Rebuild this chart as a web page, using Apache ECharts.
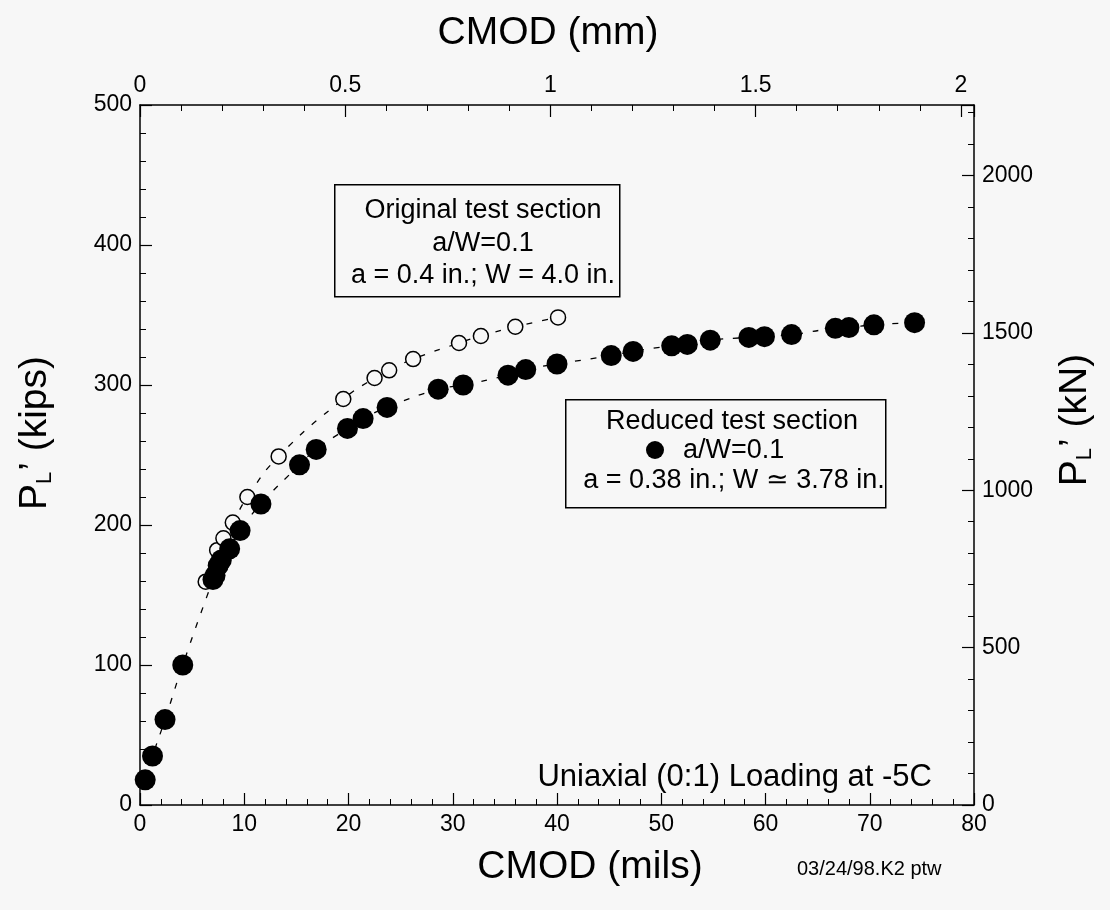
<!DOCTYPE html>
<html>
<head>
<meta charset="utf-8">
<script src="https://cdn.jsdelivr.net/npm/echarts@6/dist/echarts.min.js"></script>
<style>
  html, body { margin: 0; padding: 0; background: #f7f7f7; }
  #main { width: 1110px; height: 910px; }
</style>
</head>
<body>
<div id="main"></div>
<script>
// CMOD (mils) vs P_L (kips)
const reducedCmod = [0.5, 1.2, 2.4, 4.1, 7.0, 7.2, 7.5, 7.8, 8.6, 9.6, 11.6, 15.3, 16.9, 19.9, 21.4, 23.7, 28.6,
  31.0, 35.3, 37.0, 40.0, 45.2, 47.3, 51.0, 52.5, 54.7, 58.4, 59.9, 62.5, 66.7, 68.0, 70.4, 74.3];
const reducedLoad = [18, 35, 61, 100, 161, 164, 171, 175, 183, 196, 215, 243, 254, 269, 276, 284, 297,
  300, 307, 311, 315, 321, 324, 328, 329, 332, 334, 334.5, 336, 340.5, 341, 343, 344.5];

const originalCmod = [6.3, 7.4, 8.0, 8.9, 10.3, 13.3, 19.5, 22.5, 23.9, 26.2, 30.6, 32.7, 36.0, 40.1];
const originalLoad = [159.5, 182, 190.5, 201.7, 220, 249, 290, 305, 310.5, 318.5, 330, 335, 341.6, 348.3];

const originalNote = ['Original test section', 'a/W=0.1', 'a = 0.4 in.; W = 4.0 in.'];
const reducedNote = ['Reduced test section', 'a/W=0.1', 'a = 0.38 in.; W \u2243 3.78 in.'];
const loadingNote = 'Uniaxial (0:1) Loading at -5C';
const stamp = '03/24/98.K2 ptw';

const MILS_MAX = 80;
const MM_MAX = MILS_MAX * 0.0254;      // 2.032 mm
const KIPS_MAX = 500;
const KN_MAX = KIPS_MAX * 4.44822;     // 2224 kN

var chartDom = document.getElementById('main');
var myChart = echarts.init(chartDom);

const font = 'Liberation Sans, Arial, Helvetica, sans-serif';
const black = '#000';

function axisBase() {
  return {
    axisLine: { show: true, onZero: false, lineStyle: { color: black, width: 1.5 } },
    axisTick: { show: true, inside: true, length: 12, lineStyle: { color: black, width: 1.2 } },
    minorTick: { show: true, splitNumber: 5, length: 6, lineStyle: { color: black, width: 1 } },
    splitLine: { show: false },
    axisLabel: { color: black, fontSize: 23, fontFamily: font }
  };
}

const titleStyle = { color: black, fontSize: 39, fontFamily: font };
const plRich = {
  a: { fontSize: 39, fontFamily: font, color: black },
  s: { fontSize: 22, fontFamily: font, color: black, padding: [20, 1, 0, 0] }
};

function pairs(xs, ys) {
  return xs.map((x, i) => [x, ys[i]]);
}

var option = {
  backgroundColor: '#f7f7f7',
  animation: false,
  grid: { left: 140, right: 136, top: 105, bottom: 105 },
  xAxis: [
    Object.assign(axisBase(), {
      type: 'value', position: 'bottom', min: 0, max: MILS_MAX, interval: 10,
      name: 'CMOD (mils)', nameLocation: 'middle', nameGap: 43,
      nameTextStyle: Object.assign({ padding: [0, 0, 0, 66] }, titleStyle)
    }),
    Object.assign(axisBase(), {
      type: 'value', position: 'top', min: 0, max: MM_MAX, interval: 0.5,
      name: 'CMOD (mm)', nameLocation: 'middle', nameGap: 52,
      nameTextStyle: Object.assign({ padding: [0, 18, 0, 0] }, titleStyle),
      axisLabel: {
        color: black, fontSize: 23, fontFamily: font, showMaxLabel: false,
        formatter: v => (Math.abs(v / 0.5 - Math.round(v / 0.5)) < 1e-6 ? String(v) : '')
      }
    })
  ],
  yAxis: [
    Object.assign(axisBase(), {
      type: 'value', position: 'left', min: 0, max: KIPS_MAX, interval: 100,
      name: "{a|P}{s|L}{a|\u2019 (kips)}", nameLocation: 'middle', nameGap: 84, nameRotate: 90,
      nameTextStyle: { padding: [0, 0, 0, 44], rich: plRich }
    }),
    Object.assign(axisBase(), {
      type: 'value', position: 'right', min: 0, max: KN_MAX, interval: 500,
      name: "{a|P}{s|L}{a|\u2019 (kN)}", nameLocation: 'middle', nameGap: 80, nameRotate: 90,
      nameTextStyle: { padding: [0, 0, 0, 70], rich: plRich },
      axisLabel: {
        color: black, fontSize: 23, fontFamily: font, showMaxLabel: false,
        formatter: v => String(Math.round(v))
      }
    })
  ],
  series: [
    {
      name: 'Original test section',
      type: 'line',
      xAxisIndex: 0, yAxisIndex: 0,
      data: pairs(originalCmod, originalLoad),
      smooth: true,
      symbol: 'circle',
      symbolSize: 15,
      itemStyle: { color: '#f7f7f7', borderColor: black, borderWidth: 1.5 },
      lineStyle: { color: black, width: 1.3, type: [6, 10] },
      z: 3
    },
    {
      name: 'Reduced test section',
      type: 'line',
      xAxisIndex: 0, yAxisIndex: 0,
      data: pairs(reducedCmod, reducedLoad),
      smooth: true,
      symbol: 'circle',
      symbolSize: 21,
      itemStyle: { color: black, borderColor: black, borderWidth: 0 },
      lineStyle: { color: black, width: 1.3, type: [6, 10] },
      z: 4
    }
  ],
  graphic: [
    {
      type: 'rect', left: 334, top: 184, z: 10,
      shape: { width: 285, height: 112 },
      style: { fill: '#f7f7f7', stroke: black, lineWidth: 1.5 }
    },
    {
      type: 'text', x: 483, y: 211, z: 11,
      style: { text: originalNote[0], font: '27px ' + font, fill: black, textAlign: 'center', textVerticalAlign: 'middle' }
    },
    {
      type: 'text', x: 483, y: 244, z: 11,
      style: { text: originalNote[1], font: '27px ' + font, fill: black, textAlign: 'center', textVerticalAlign: 'middle' }
    },
    {
      type: 'text', x: 483, y: 276, z: 11,
      style: { text: originalNote[2], font: '27px ' + font, fill: black, textAlign: 'center', textVerticalAlign: 'middle' }
    },
    {
      type: 'rect', left: 565, top: 399, z: 10,
      shape: { width: 320, height: 108 },
      style: { fill: '#f7f7f7', stroke: black, lineWidth: 1.5 }
    },
    {
      type: 'text', x: 732, y: 422, z: 11,
      style: { text: reducedNote[0], font: '27px ' + font, fill: black, textAlign: 'center', textVerticalAlign: 'middle' }
    },
    {
      type: 'circle', z: 11,
      shape: { cx: 655, cy: 450, r: 9 },
      style: { fill: black }
    },
    {
      type: 'text', x: 683, y: 451, z: 11,
      style: { text: reducedNote[1], font: '27px ' + font, fill: black, textAlign: 'left', textVerticalAlign: 'middle' }
    },
    {
      type: 'text', x: 734, y: 481, z: 11,
      style: { text: reducedNote[2], font: '27px ' + font, fill: black, textAlign: 'center', textVerticalAlign: 'middle' }
    },
    {
      type: 'text', x: 932, y: 777, z: 11,
      style: { text: loadingNote, font: '31px ' + font, fill: black, textAlign: 'right', textVerticalAlign: 'middle' }
    },
    {
      type: 'text', x: 797, y: 869, z: 11,
      style: { text: stamp, font: '20px ' + font, fill: black, textAlign: 'left', textVerticalAlign: 'middle' }
    }
  ]
};

option && myChart.setOption(option);
</script>
</body>
</html>
